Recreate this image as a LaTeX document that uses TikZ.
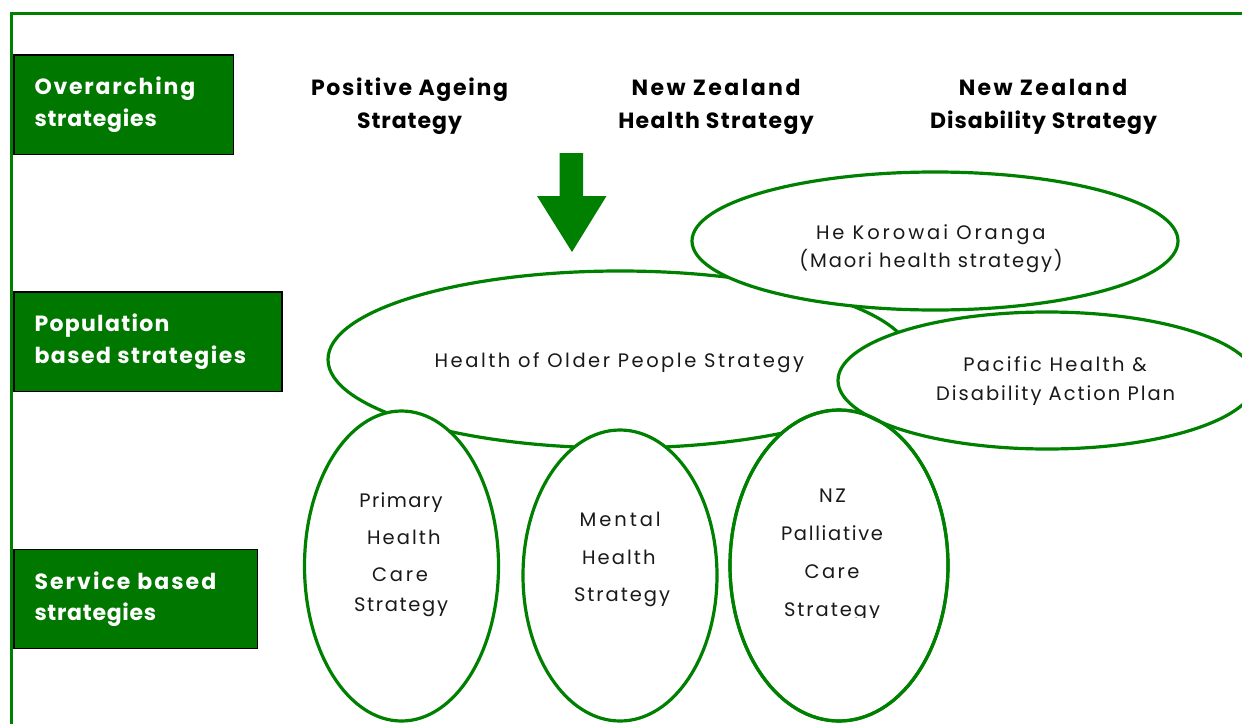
\documentclass[tikz,border=0pt]{standalone}
\usepackage{fontspec}
\usetikzlibrary{shapes.geometric}
\newfontfamily\gothic{Poppins}
\definecolor{frameg}{RGB}{0,128,0}
\definecolor{boxg}{RGB}{0,120,0}
\definecolor{txtd}{RGB}{25,25,25}
\newcommand\tb{\gothic\bfseries\fontsize{22}{27}\selectfont}
\newcommand\tr{\gothic\fontsize{19.5}{24}\selectfont}
\ExplSyntaxOn
\dim_new:N \l_fit_wa_dim
\dim_new:N \l_fit_wb_dim
\fp_new:N \l_fit_ls_fp
\box_new:N \l_fit_box
\NewDocumentCommand \fitline { m m m }
  {
    \group_begin:
    #1
    \hbox_set:Nn \l_fit_box { #3 }
    \dim_set:Nn \l_fit_wa_dim { \box_wd:N \l_fit_box }
    \use:e { \exp_not:N \addfontfeatures { LetterSpace = 10 } }
    \hbox_set:Nn \l_fit_box { #3 }
    \dim_set:Nn \l_fit_wb_dim { \box_wd:N \l_fit_box }
    \fp_set:Nn \l_fit_ls_fp { 10 * ( #2 - \dim_to_fp:n { \l_fit_wa_dim } ) / ( \dim_to_fp:n { \l_fit_wb_dim } - \dim_to_fp:n { \l_fit_wa_dim } ) }
    \use:e { \exp_not:N \addfontfeatures { LetterSpace = \fp_eval:n { round( \l_fit_ls_fp , 2 ) } } }
    #3
    \group_end:
  }
\ExplSyntaxOff
\begin{document}
\begin{tikzpicture}[x=1pt,y=-1pt,
  lbl/.style={inner sep=0pt, outer sep=0pt},
  hdr/.style={draw=black, line width=1.5pt, fill=boxg, inner sep=0pt, anchor=north west},
  ell/.style={ellipse, draw=frameg, line width=3.2pt, fill=white, inner sep=0pt},
  ttl/.style={lbl, anchor=base, text=black},
  htx/.style={lbl, anchor=base west, text=white},
  etx/.style={lbl, anchor=base, text=txtd}]
\useasboundingbox (0,0) rectangle (1242,723);
\clip (0,0) rectangle (1242,723);
% frame
\draw[frameg, line width=3pt] (11,730) -- (11,13) -- (1250,13);
% header boxes
\node[hdr, minimum width=219.5pt, minimum height=99.5pt] (b1) at (13,54) {};
\node[hdr, minimum width=268pt, minimum height=99.5pt] (b2) at (13,291) {};
\node[hdr, minimum width=243.5pt, minimum height=99pt] (b3) at (13,548.5) {};
\node[htx] (b1a) at (34.5,94.3) {\fitline{\tb}{160.7}{Overarching}};
\node[htx] (b1b) at (34.5,126.7) {\fitline{\tb}{122.3}{strategies}};
\node[htx] (b2a) at (34.5,331.7) {\fitline{\tb}{135}{Population}};
\node[htx] (b2b) at (34.5,363.3) {\fitline{\tb}{211.7}{based strategies}};
\node[htx] (b3a) at (34.5,589) {\fitline{\tb}{181.7}{Service based}};
\node[htx] (b3b) at (34.5,620.7) {\fitline{\tb}{121.7}{strategies}};
% titles
\node[ttl] (t1a) at (409.5,95.7) {\fitline{\tb}{197}{Positive Ageing}};
\node[ttl] (t1b) at (409.5,128.3) {\fitline{\tb}{105}{Strategy}};
\node[ttl] (t2a) at (716,95.7) {\fitline{\tb}{169}{New Zealand}};
\node[ttl] (t2b) at (716,128.3) {\fitline{\tb}{195.5}{Health Strategy}};
\node[ttl] (t3a) at (1043,95.7) {\fitline{\tb}{168.5}{New Zealand}};
\node[ttl] (t3b) at (1043.5,128.3) {\fitline{\tb}{227}{Disability Strategy}};
% arrow
\fill[frameg] (559.5,153) -- (583,153) -- (583,196) -- (606.5,196) -- (572,252) -- (537,196) -- (559.5,196) -- cycle;
% ellipses
\node[ell, minimum width=584pt, minimum height=177pt] (older) at (620,359.5) {};
\node[ell, minimum width=486pt, minimum height=138pt] (korowai) at (935,241) {};
\node[ell, minimum width=194pt, minimum height=310pt] (primary) at (401.5,566) {};
\node[ell, minimum width=194pt, minimum height=291pt] (mental) at (620,575.5) {};
\node[ell, minimum width=218pt, minimum height=311pt] (nz) at (839,565.5) {};
\node[ell, minimum width=418pt, minimum height=137pt] (pacific) at (1047,380.5) {};
\node[ell, fill=none, minimum width=218pt, minimum height=311pt] (nzline) at (nz.center) {};
% ellipse texts
\node[etx] (k1) at (930.8,239) {\fitline{\tr}{229.5}{He Korowai Oranga}};
\node[etx] (k2) at (931.1,267.7) {\fitline{\tr}{263.4}{(Maori health strategy)}};
\node[etx] (o1) at (619.4,367.5) {\fitline{\tr}{369.4}{Health of Older People Strategy}};
\node[etx] (p1) at (1055,371.7) {\fitline{\tr}{183.5}{Pacific Health \&}};
\node[etx] (p2) at (1055.7,400.7) {\fitline{\tr}{239}{Disability Action Plan}};
\node[etx] (pr1) at (401,507) {\fitline{\tr}{83.2}{Primary}};
\node[etx] (pr2) at (403.8,544) {\fitline{\tr}{73.5}{Health}};
\node[etx] (pr3) at (400,581.7) {\fitline{\tr}{56}{Care}};
\node[etx] (pr4) at (401,611.7) {\fitline{\tr}{94}{Strategy}};
\node[etx] (m1) at (620.2,526) {\fitline{\tr}{81}{Mental}};
\node[etx] (m2) at (618.8,564) {\fitline{\tr}{73.6}{Health}};
\node[etx] (m3) at (622,601.7) {\fitline{\tr}{96}{Strategy}};
\node[etx] (n1) at (832.5,502.7) {\fitline{\tr}{27}{NZ}};
\node[etx] (n2) at (832,540) {\fitline{\tr}{102}{Palliative}};
\node[etx] (n3) at (832,578) {\fitline{\tr}{54.7}{Care}};
\begin{scope}
\clip (740,590) rectangle (930,617.5);
\node[etx] (n4) at (832,616) {\fitline{\tr}{96}{Strategy}};
\end{scope}
\end{tikzpicture}
\end{document}
